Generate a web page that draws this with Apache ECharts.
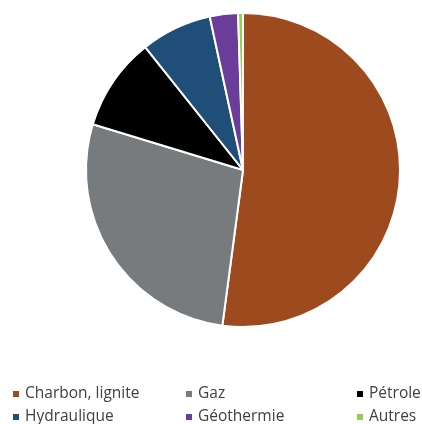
<!DOCTYPE html>
<html>
<head>
<meta charset="utf-8">
<script src="https://cdn.jsdelivr.net/npm/echarts@6/dist/echarts.min.js"></script>
<style>
  html, body { margin: 0; padding: 0; background: #fff; }
  #chart { width: 422px; height: 424px; }
</style>
</head>
<body>
<div id="chart"></div>
<script>
var categories = ['Charbon, lignite', 'Gaz', 'Pétrole', 'Hydraulique', 'Géothermie', 'Autres'];
var values = [52.1, 27.6, 9.6, 7.3, 2.9, 0.5];
var colors = ['#9c4a1e', '#777b7e', '#000000', '#1f4e79', '#6a3d9a', '#92d050'];

var pieData = [];
for (var i = 0; i < categories.length; i++) {
  pieData.push({ name: categories[i], value: values[i], itemStyle: { color: colors[i] } });
}

// legend in three columns
function makeLegend(left, names) {
  return {
    orient: 'vertical',
    left: left,
    top: 386,
    height: 80,
    padding: 0,
    icon: 'rect',
    itemWidth: 8,
    itemHeight: 8,
    itemGap: 7,
    data: names,
    textStyle: { fontFamily: 'Open Sans', fontSize: 15.5, lineHeight: 16, color: '#404040', padding: [0, 0, 0, 0] }
  };
}

var myChart = echarts.init(document.getElementById('chart'));
var option = {
  animation: false,
  backgroundColor: '#fff',
  legend: [
    makeLegend(11, [categories[0], categories[3]]),
    makeLegend(184, [categories[1], categories[4]]),
    makeLegend(355, [categories[2], categories[5]])
  ],
  series: [{
    type: 'pie',
    center: [243, 170],
    radius: 157,
    startAngle: 90,
    clockwise: true,
    label: { show: false },
    labelLine: { show: false },
    itemStyle: { borderColor: '#fff', borderWidth: 2 },
    data: pieData
  }]
};
myChart.setOption(option);
</script>
</body>
</html>
